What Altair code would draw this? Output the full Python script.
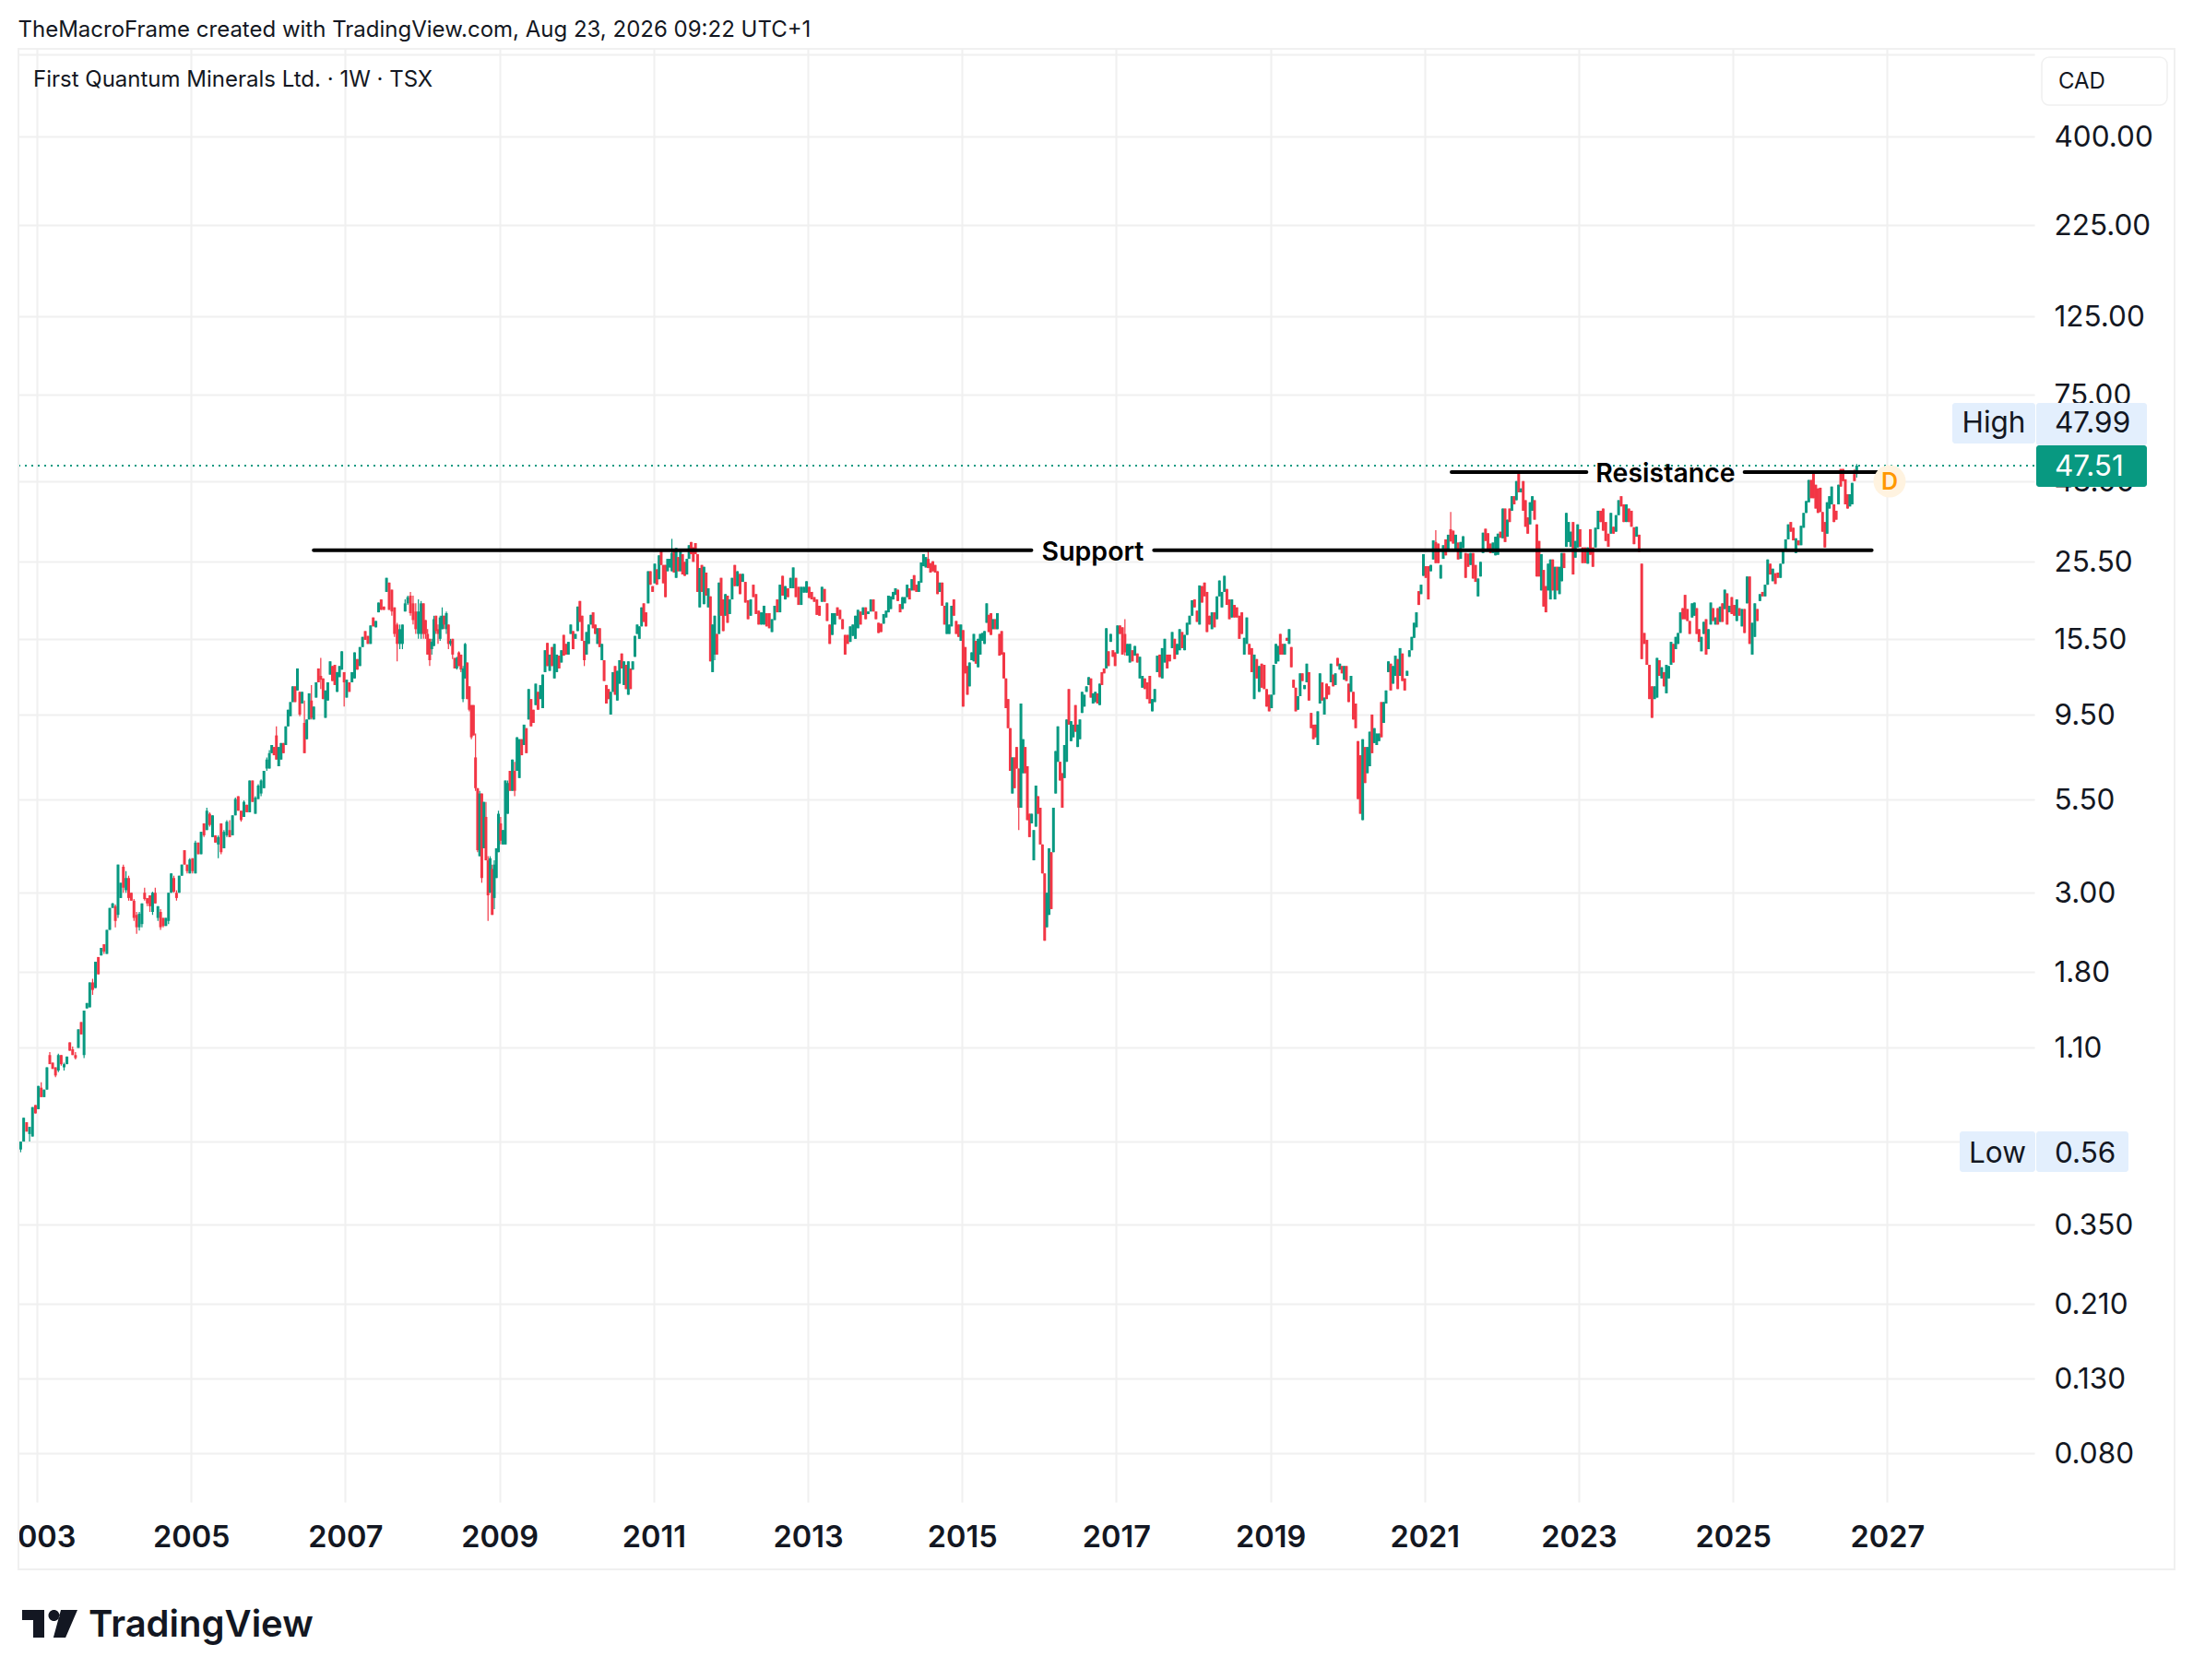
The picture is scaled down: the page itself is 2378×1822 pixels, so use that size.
import altair as alt

# (open, close) or (open, close, high, low), read from the weekly candles, one list per calendar year
bars_2002 = [(.57,.60,.60,.56),(.60,.70),(.68,.64),(.63,.66,.66,.60),(.62,.75),(.76,.72)]
bars_2003 = [(.74,.86),(.85,.80,.88,.80),(.80,.84),(.84,.97),(1.05,.99,1.07,.99),(1.0,.96),(.97,.92,.97,.91),(.95,1.05,1.06,.94),(1.05,.99,1.05,.98),(.97,.99,1.0,.95),(.99,1.04),(1.14,1.08),(1.09,1.05,1.11,1.05),(1.05,1.03,1.07,1.02),(1.1,1.24),(1.3,1.2),(1.05,1.4,1.4,1.03),(1.42,1.47),(1.43,1.68),(1.68,1.6,1.72,1.55),(1.62,1.92),(1.98,1.77),(2.0,2.1),(2.15,2.05,2.15,2.02),(2.02,2.36),(2.36,2.72),(2.72,2.8,2.81,2.72)]
bars_2004 = [(2.75,2.5,2.78,2.4),(2.6,3.6,3.6,2.55),(2.9,3.2),(3.55,3.1,3.6,3.0),(3.05,3.3,3.45,3.0),(3.3,2.9,3.35,2.85),(3.0,2.85),(2.85,2.55,2.88,2.5),(2.6,2.4,2.65,2.3),(2.4,2.62,2.65,2.35),(2.45,2.8,2.8,2.4),(3.0,2.88,3.1,2.85),(2.9,2.8,2.9,2.75),(2.95,2.75,2.95,2.65),(2.65,3.0,3.02,2.6),(3.0,2.8,3.1,2.8),(2.55,2.75,2.75,2.5),(2.65,2.4,2.7,2.36),(2.55,2.42,2.55,2.4),(2.42,2.55),(2.5,3.0,3.0,2.45),(3.0,3.4),(3.3,3.02,3.35,3.0),(3.0,2.9,3.05,2.85),(3.0,3.35),(3.35,3.6),(3.95,3.6),(3.6,3.45,3.6,3.4),(3.4,3.72,3.75,3.4)]
bars_2005 = [(3.75,3.45,3.75,3.4),(3.4,4.15,4.2,3.4),(4.15,3.85),(3.85,4.45),(4.7,4.35,4.7,4.3),(4.5,5.1,5.2,4.5),(5.0,4.65,5.05,4.6),(4.3,4.95),(4.35,4.15),(4.1,4.3,4.35,3.75),(4.7,3.9,4.7,3.85),(4.0,4.45,4.5,4.0),(4.35,4.75,4.8,4.3),(4.5,4.3,4.8,4.3),(4.35,4.95),(4.95,5.5,5.55,4.95),(5.6,5.1),(5.1,4.8,5.1,4.75),(4.9,5.4,5.45,4.9),(5.3,5.05),(5.05,6.2),(6.2,5.4),(5.0,5.55,5.6,5.0),(5.5,6.0,6.05,5.5),(5.7,6.2,6.25,5.6),(5.9,6.6),(6.7,7.1,7.2,6.6)]
bars_2006 = [(6.7,7.4,7.55,6.7),(7.4,7.8),(7.7,7.3),(8.3,7.1,8.8,7.1),(6.8,7.7),(7.1,7.9),(7.9,7.4),(7.8,8.8),(8.8,9.8),(9.4,10.3),(10.3,11.4),(11.4,10.3),(11.1,12.8),(11.0,9.5,11.0,9.4),(10.2,11.0),(9.0,7.4,10.4,7.4),(8.1,9.2),(9.2,10.9),(10.4,9.3,11.5,9.2),(9.2,10.0),(10.6,11.7),(12.8,11.7),(12.2,11.9,13.7,11.2),(12.0,10.5),(9.3,11.1),(10.4,11.7),(12.3,13.4),(13.0,11.8),(13.1,11.5),(11.0,12.5),(12.1,13.0),(12.7,14.3),(12.5,11.7,12.5,10.0)]
bars_2007 = [(10.6,11.9),(11.7,11.0),(11.7,12.5),(12.0,14.2),(13.6,12.7),(13.0,14.7),(14.7,15.7),(16.3,15.4),(15.8,15.0),(15.0,16.9),(17.8,16.8),(16.7,17.4),(18.4,19.6),(20.0,18.7),(19.1,18.7),(21.0,23.0),(22.3,18.7),(21.3,18.5,21.3,18.0),(19.0,16.0,19.0,15.7),(17.0,15.0,17.2,13.4),(15.0,16.5,17.0,14.5),(15.0,17.0,17.0,14.5),(18.5,19.5,20.0,18.5),(19.5,20.3,20.5,19.3),(20.5,18.3,21.0,18.0),(19.5,17.5,20.5,17.0),(18.5,16.5,19.5,16.0),(16.0,18.5,20.0,15.5),(16.0,19.5,19.8,15.5)]
bars_2008 = [(19.5,16.0,19.5,15.5),(17.5,16.0,17.5,15.5),(16.0,14.0,16.5,14.0),(15.5,13.5,15.5,13.0),(14.5,15.2,15.5,14.0),(14.8,17.6,18.0,14.8),(18.0,16.3,18.0,16.0),(16.5,16.0,17.0,15.0),(15.5,17.8,18.0,15.3),(16.5,18.0,19.0,16.5),(18.0,17.0,18.0,16.5),(16.5,18.3,18.5,16.0),(17.0,15.0,17.0,14.5),(15.0,15.3,15.5,14.8),(15.5,14.0,15.5,13.6),(13.7,12.8),(12.8,13.7,13.8,12.7),(14.2,13.0,14.3,13.0),(14.0,12.7,14.0,12.5),(10.5,12.8,13.0,10.3),(12.0,15.0,15.1,12.0),(13.3,10.5),(11.4,9.8,11.4,9.7),(10.1,8.2,10.1,8.1),(10.1,8.3),(7.2,5.9,8.4,5.8),(5.9,3.95,5.9,3.9),(3.8,5.7,5.8,3.8),(5.7,3.3,5.7,3.2),(4.0,5.4),(4.9,3.7,5.4,3.7),(3.7,2.95,3.8,2.5),(3.0,3.75,3.8,3.0),(3.5,2.6,3.6,2.6),(2.9,3.6,3.7,2.7),(3.3,4.0),(3.9,5.0,5.1,3.9)]
bars_2009 = [(4.7,4.2,4.9,4.1),(4.1,4.5),(4.1,6.2),(5.0,6.1,6.2,5.0),(6.6,5.8),(5.8,7.1),(6.6,5.8,7.0,5.6),(6.6,8.2),(6.3,8.1),(8.1,7.3),(7.8,8.9),(8.7,7.4),(9.2,11.2),(10.5,8.8),(9.8,9.0),(10.1,11.6),(11.0,9.8),(10.5,11.5),(9.9,12.3),(12.5,14.4),(15.1,13.0),(12.6,14.0),(14.7,13.0),(12.0,15.0),(12.5,14.0),(13.9,12.8),(13.3,14.4),(15.9,13.9),(15.0,14.0),(14.0,15.2),(16.0,17.0),(16.3,14.5),(15.5,16.0)]
bars_2010 = [(16.3,19.1),(19.8,17.3),(18.0,15.3),(15.3,13.5,15.3,13.0),(14.0,16.2),(15.0,17.0),(17.0,18.1),(18.4,16.6),(17.0,16.0),(15.0,16.6),(16.6,14.7),(13.5,15.0),(13.5,11.8),(11.5,10.2),(11.2,10.5),(9.5,11.0),(11.0,12.5),(13.0,10.8),(10.4,12.6),(11.6,13.5),(14.1,12.8),(11.5,13.4),(13.1,11.2),(10.8,13.4),(12.8,11.2),(12.7,13.4),(13.8,15.8),(16.0,17.0),(15.5,16.8),(16.8,19.0),(19.5,17.3),(18.4,16.8),(19.5,24.0),(24.0,22.0),(21.8,21.0)]
bars_2011 = [(22.2,25.2),(24.3,22.0),(22.8,26.6),(27.3,25.0),(25.0,22.2),(25.0,20.3),(24.0,26.0),(24.6,26.0),(24.0,27.0,29.6,24.0),(27.6,23.8),(23.0,27.9),(26.3,24.0),(24.0,27.3),(26.8,23.5),(25.5,23.3),(23.5,26.0),(26.0,28.4),(29.0,26.8),(28.0,25.5),(28.8,26.8),(26.8,21.0),(19.0,24.5),(25.0,21.0),(19.4,24.7),(23.8,20.5),(19.0,21.5),(20.4,13.4),(12.5,17.0),(14.0,18.0,18.0,13.5),(16.0,14.0),(16.0,22.3),(23.0,18.0),(20.0,16.3),(18.0,20.7),(20.5,17.2),(18.2,20.0)]
bars_2012 = [(20.0,23.0),(25.0,21.8),(21.8,24.0),(23.6,20.7),(22.4,23.6),(22.4,19.6),(19.9,17.6),(18.0,20.0),(22.0,20.3),(20.7,18.2),(18.6,17.0),(17.0,18.4),(17.0,19.2),(18.3,16.8),(18.3,16.6),(16.2,17.6),(17.5,19.2),(20.0,18.4),(18.4,22.0),(23.3,20.5),(20.0,21.8),(21.5,20.3),(21.5,23.0),(21.5,24.6),(23.0,20.3),(21.7,19.3),(19.3,21.7),(20.9,21.7),(20.9,22.5)]
bars_2013 = [(21.7,20.2),(21.0,20.0),(20.3,19.7),(20.0,18.1),(19.2,18.0),(19.7,21.7),(21.4,19.7),(19.5,17.4),(17.0,15.0),(15.9,18.3),(17.0,18.3),(19.0,18.0),(18.7,17.6),(17.6,16.5),(15.9,14.0),(15.9,15.0),(15.2,16.8),(15.8,17.0),(15.5,18.0),(16.6,18.7),(18.5,17.0),(18.1,19.0),(19.0,17.6),(18.2,18.5),(18.5,20.0),(20.0,18.5),(18.5,17.6),(17.2,16.1),(17.1,16.2),(17.1,18.2)]
bars_2014 = [(17.8,18.6),(18.4,20.5),(18.8,20.4),(20.0,21.0),(20.6,21.5),(21.3,19.8),(19.4,18.4),(18.8,20.3),(19.5,20.3),(20.3,22.0),(21.5,20.0),(21.2,22.8),(23.4,21.2),(22.0,21.0),(21.0,22.5),(22.3,25.4),(24.8,26.8),(24.6,26.3),(26.0,24.5,27.3,24.5),(25.3,23.8),(25.6,24.0),(25.0,23.8),(24.0,20.7),(21.0,22.3),(22.3,19.2),(19.2,17.0),(16.0,19.6),(16.0,17.0),(16.8,19.2),(20.0,18.0),(17.4,16.0),(17.0,15.7),(15.3,17.0)]
bars_2015 = [(16.4,10.0),(14.7,12.4),(13.0,10.8),(11.4,13.3),(13.5,14.2),(13.4,16.0),(15.3,13.2),(12.9,15.5),(14.0,16.0),(15.3,16.1),(15.0,16.3),(17.2,19.5),(18.1,16.2),(18.3,15.9),(16.5,17.6),(17.6,16.5),(16.5,18.3),(16.0,13.9),(16.3,14.0),(14.2,12.0),(12.0,9.9),(10.5,8.7),(8.7,6.6),(5.7,7.2),(7.2,5.9),(7.7,6.7),(6.7,5.2,6.7,4.5),(5.2,10.2),(6.5,8.1),(7.7,6.5),(6.8,4.8),(5.0,4.3),(4.7,5.0),(3.7,4.5),(4.6,6.0),(5.6,5.0)]
bars_2016 = [(5.2,4.1),(4.1,3.4),(3.4,2.2),(2.4,3.0),(2.6,4.0),(3.9,2.7),(3.9,5.2),(5.7,7.5),(7.0,8.8),(7.0,6.2),(6.5,5.2),(6.3,7.8),(7.0,9.2),(11.2,8.9),(8.0,9.1),(8.2,8.9),(10.1,8.5),(7.7,8.9),(8.1,9.2),(9.6,11.0),(10.0,10.8),(11.0,11.4),(11.5,12.1),(12.0,10.6),(10.2,10.9),(10.3,11.0),(10.9,10.2),(10.1,11.6),(12.5,11.5),(12.8,12.4),(12.8,16.6),(14.3,13.0),(15.2,16.0),(14.4,13.8),(14.2,13.0)]
bars_2017 = [(14.1,16.9),(16.9,16.0),(16.7,14.0),(16.0,14.2,17.6,13.9),(13.9,15.0),(13.3,15.0),(14.4,13.4),(13.9,14.8),(14.1,13.3),(12.0,13.8),(11.3,12.2),(12.0,11.2),(11.7,10.5),(12.2,10.2),(9.7,10.5),(10.3,11.2),(12.5,13.9),(14.0,12.1),(12.0,14.6),(13.3,15.5),(14.0,12.8),(14.0,13.4),(14.6,16.2),(15.5,13.6),(14.0,15.0),(14.4,16.5),(16.2,14.6),(14.4,15.9),(15.9,17.2),(17.0,18.0),(18.0,19.9)]
bars_2018 = [(20.0,19.0),(18.6,17.3),(17.0,21.9),(21.8,19.6),(22.3,20.4),(21.0,16.2),(18.0,17.0),(16.5,18.4),(18.4,16.7),(17.6,20.4),(20.4,22.6),(19.0,21.0),(21.0,23.3),(21.4,19.3),(20.0,17.6),(17.8,20.0),(19.3,17.8),(19.0,17.8),(18.0,15.5),(18.4,16.0),(14.0,15.6),(15.0,17.8),(15.0,14.0),(14.6,12.5),(10.5,14.0),(13.6,12.0),(11.0,13.0),(13.2,11.3),(13.1,11.2),(11.2,10.0),(10.8,9.7)]
bars_2019 = [(9.9,10.8),(10.8,13.1),(13.2,15.0),(13.4,14.8),(16.0,14.0),(15.0,14.0),(14.0,15.0),(15.6,15.3),(15.0,16.5),(14.7,12.9),(11.9,11.3),(11.3,9.7),(9.8,10.7),(10.7,12.4),(12.4,11.8),(11.2,11.5),(11.7,13.2),(12.5,10.4),(9.6,8.7),(8.9,8.1),(8.9,8.2),(7.8,9.7),(10.2,12.4),(11.7,10.4),(9.5,10.6),(11.6,10.5),(11.4,10.8),(11.7,13.2),(12.3,11.4),(11.5,12.4),(13.7,13.0),(12.7,13.2),(13.0,12.4),(11.9,13.0),(13.0,11.8)]
bars_2020 = [(11.6,10.3),(11.0,12.2),(11.0,9.2),(10.2,8.7),(8.0,5.5),(7.3,5.0),(4.8,8.1),(7.7,6.1),(6.5,7.7),(6.8,8.5),(9.5,7.4),(7.9,8.7),(7.8,8.4),(8.0,8.4),(10.3,8.2),(9.0,10.3),(10.2,11.1),(12.5,13.4),(13.2,11.1),(11.6,13.0),(12.2,13.9),(13.6,11.2),(12.2,14.6),(14.1,11.8),(12.0,11.1),(12.2,12.6),(13.8,14.4),(14.4,15.7),(15.6,17.2),(16.7,18.4),(21.1,19.3),(20.7,22.0),(23.3,26.8)]
bars_2021 = [(24.8,23.0),(24.8,20.0),(24.0,25.0),(25.9,29.3),(29.0,25.3,31.3,25.3),(28.7,25.3),(22.9,25.0),(26.0,28.4),(29.5,26.6),(27.7,30.4),(31.5,29.1,35.2,29.1),(31.2,28.7),(27.7,30.4),(28.9,25.9),(26.0,29.0),(27.9,30.1),(27.0,23.0),(26.9,24.7),(25.0,27.0),(27.0,22.9),(25.0,22.4),(20.4,22.9),(23.2,25.5),(27.0,30.8),(31.6,29.2),(30.7,27.4),(28.7,27.0),(27.0,28.9),(26.6,30.0),(26.7,30.6),(31.0,29.8)]
bars_2022 = [(29.7,36.0),(36.0,29.0),(30.0,33.5),(36.0,33.0),(35.5,39.0),(39.0,37.0),(38.0,43.0,43.0,38.0),(45.8,40.0),(40.0,41.0),(43.0,35.5),(38.0,32.0),(34.0,30.6),(32.5,37.5),(35.5,39.0),(38.0,33.5),(32.5,23.2),(29.2,23.2),(21.2,26.8),(24.2,19.1),(21.8,18.4),(21.2,25.2),(20.0,25.9),(25.9,21.2),(20.0,24.7),(24.7,21.2),(20.7,24.7),(22.5,27.0),(27.0,24.5),(28.1,35.0),(29.0,33.0),(28.1,31.0),(33.0,23.5),(26.2,29.2),(28.0,32.5)]
bars_2023 = [(31.5,28.1),(28.0,25.3),(28.0,25.3),(25.2,28.0),(31.5,26.7),(28.0,24.7),(28.0,31.8),(31.5,35.5),(35.5,33.0),(36.0,31.2),(33.0,29.2),(30.6,28.1),(30.6,35.0),(32.0,30.6),(31.0,34.5),(34.5,38.0),(39.0,36.5),(37.0,33.0),(33.0,37.0),(36.0,33.0),(35.5,32.0),(31.9,28.6),(30.0,32.0),(30.4,27.2),(25.2,13.6),(16.1,15.0),(15.4,13.1),(13.1,10.5),(11.4,9.3),(10.5,11.4)]
bars_2024 = [(10.6,13.7),(13.5,12.2),(12.0,12.9),(12.5,11.4),(10.9,13.1),(12.0,13.0),(13.1,15.2),(15.0,13.3),(14.5,15.7),(15.0,16.1),(16.1,18.4),(18.9,17.6),(20.6,17.6),(18.8,17.4),(17.4,16.0),(17.8,19.5),(18.0,19.6),(18.9,16.0),(16.5,15.2),(14.3,15.7),(16.0,17.3),(17.6,14.0),(14.5,16.5),(17.0,19.6),(18.9,17.4),(17.0,17.8),(18.9,17.0),(17.3,19.1),(19.5,17.3),(18.8,21.3),(20.8,17.0),(18.4,19.2),(20.3,18.2)]
bars_2025 = [(19.3,18.0),(17.4,20.0),(18.9,18.0),(16.8,18.8),(18.8,16.1),(19.5,23.2),(23.2,15.0),(14.0,17.2),(15.7,19.5),(18.8,17.4),(19.8,20.7),(21.0,20.4),(20.4,22.0),(22.0,25.9),(25.2,23.5),(22.5,24.4),(23.7,22.1),(23.8,23.0),(23.0,25.2),(25.2,27.5),(27.5,29.5),(29.5,32.5),(33.0,31.0),(31.8,29.3),(27.0,29.7),(29.3,28.4),(28.4,32.2),(31.8,35.0),(35.0,37.8),(37.5,43.3)]
bars_2026 = [(43.3,38.5),(45.8,38.5),(42.0,36.0),(41.0,35.0),(41.2,35.2),(35.2,31.0),(33.0,28.0,33.0,28.0),(30.6,37.5),(36.0,39.0),(37.0,41.5),(37.0,33.0),(35.5,33.5),(37.0,42.0),(46.5,41.5),(46.5,43.0),(43.5,37.0),(39.5,36.0),(36.5,39.5),(37.0,42.5),(45.0,43.0,46.5,43.0),(45.0,47.51,47.99,44.0)]

years = {2002: bars_2002, 2003: bars_2003, 2004: bars_2004, 2005: bars_2005, 2006: bars_2006, 2007: bars_2007,
         2008: bars_2008, 2009: bars_2009, 2010: bars_2010, 2011: bars_2011, 2012: bars_2012, 2013: bars_2013,
         2014: bars_2014, 2015: bars_2015, 2016: bars_2016, 2017: bars_2017, 2018: bars_2018, 2019: bars_2019,
         2020: bars_2020, 2021: bars_2021, 2022: bars_2022, 2023: bars_2023, 2024: bars_2024, 2025: bars_2025,
         2026: bars_2026}
spans = {2002: (2002.77, 2003.0), 2026: (2026.0, 2026.62)}

price_ticks = [680, 400, 225, 125, 75, 43, 25.5, 15.5, 9.5, 5.5, 3, 1.8, 1.1, 0.6, 0.35, 0.21, 0.13, 0.08]
year_ticks = list(range(2003, 2029, 2))
support_level = 27.5
support_segments = [(2006.59, 2015.9), (2017.49, 2026.8)]
resistance_level = 45.6
resistance_segments = [(2021.35, 2023.1), (2025.15, 2026.87)]
last_price = 47.51

rows = []
for yr, bars in years.items():
    a, b = spans.get(yr, (yr, yr + 1))
    for i, bar in enumerate(bars):
        o, c = bar[0], bar[1]
        hi = bar[2] if len(bar) > 2 else max(o, c)
        lo = bar[3] if len(bar) > 2 else min(o, c)
        rows.append(dict(t=a + (i + .5) * (b - a) / len(bars), open=o, close=c, high=hi, low=lo,
                         side="up" if c >= o else "down"))

FONT = "Inter"
INK = "#131722"
GRID = "#f0f0f0"
UP = "#089981"
DOWN = "#f23645"
W, H = 2186, 1576

xs = alt.Scale(domain=[2002.76, 2028.91], nice=False, zero=False)
ys = alt.Scale(type="log", domain=[0.0583, 704], nice=False)
colour = alt.Color("side:N", scale=alt.Scale(domain=["up", "down"], range=[UP, DOWN]), legend=None)
x_axis = alt.Axis(values=year_ticks, format="d", title=None, grid=True, gridColor=GRID, gridWidth=2, ticks=False,
                  domain=False, labelFont=FONT, labelFontSize=32.5, labelFontWeight=600, labelColor=INK,
                  labelPadding=22, labelOverlap=False, labelFlush=False, labelBound=False)
y_axis = alt.Axis(values=price_ticks, orient="right", title=None, grid=True, gridColor=GRID, gridWidth=2, ticks=False,
                  domain=False, labelFont=FONT, labelFontSize=31.5, labelColor=INK, labelPadding=21, labelOverlap=False,
                  labelBound=False, labelFlush=False, labelAlign="left", labelOffset=1.5,
                  labelExpr="datum.value > 600 || (datum.value > 0.55 && datum.value < 0.65) ? '' : "
                            "datum.value >= 1 ? format(datum.value, '.2f') : format(datum.value, '.3f')")

data = alt.Data(values=rows)
wicks = alt.Chart(data).mark_rule(strokeWidth=1.2).encode(
    x=alt.X("t:Q", scale=xs, axis=x_axis),
    y=alt.Y("low:Q", scale=ys, axis=y_axis), y2="high:Q", color=colour)
bodies = alt.Chart(data).mark_rule(strokeWidth=3).encode(
    x=alt.X("t:Q"), y=alt.Y("open:Q"), y2="close:Q", color=colour)


def hline(level, segments, **style):
    vals = [dict(a=a, b=b, p=level) for a, b in segments]
    return alt.Chart(alt.Data(values=vals)).mark_rule(**style).encode(x="a:Q", x2="b:Q", y="p:Q")


support = hline(support_level, support_segments, color="#000000", strokeWidth=4, strokeCap="round")
resistance = hline(resistance_level, resistance_segments, color="#000000", strokeWidth=4, strokeCap="round")
price_line = alt.Chart(alt.Data(values=[dict(p=last_price)])).mark_rule(
    color=UP, strokeWidth=2, strokeDash=[2, 5]).encode(x=alt.value(0), x2=alt.value(W), y="p:Q")

one = alt.Data(values=[dict(n=1)])


def text(s, x, y, size=24, color=INK, weight=400, align="left"):
    return alt.Chart(one).mark_text(text=s, font=FONT, fontSize=size, color=color, fontWeight=weight, align=align,
                                    baseline="middle").encode(x=alt.value(x), y=alt.value(y))


def box(x1, x2, y1, y2, **style):
    return alt.Chart(one).mark_rect(**style).encode(x=alt.value(x1), x2=alt.value(x2), y=alt.value(y1), y2=alt.value(y2))


LOGO = ("M-1 -.5 L-.2 -.5 L-.2 .5 L-.6 .5 L-.6 -.133 L-1 -.133 Z "
        "M-.05 -.3 a .2 .2 0 1 0 .4 0 a .2 .2 0 1 0 -.4 0 Z "
        "M.4 -.5 L1 -.5 L.57 .5 L.13 .5 Z")

overlay = [
    box(-12, 0, 1590, 1640, color="#ffffff"),
    box(0, 2338, 0, 1649, fillOpacity=0, stroke=GRID, strokeWidth=2),
    text("TheMacroFrame created with TradingView.com, Aug 23, 2026 09:22 UTC+1", -0.5, -20),
    text("First Quantum Minerals Ltd. · 1W · TSX", 16, 33.5),
    box(2194, 2330, 9, 61, color="#ffffff", stroke=GRID, strokeWidth=1.5, cornerRadius=8),
    text("CAD", 2212, 36),
    box(2097, 2187, 384, 428, color="#e3effd", cornerRadius=3),
    box(2188, 2308, 384, 430, color="#e3effd", cornerRadius=3),
    text("High", 2142, 406.5, size=31.5, align="center"),
    text("47.99", 2208, 406.5, size=31.5),
    box(2188, 2308, 430, 475, color=UP, cornerRadius=3),
    text("47.51", 2208, 453.5, size=31.5, color="#ffffff"),
    box(2105, 2187, 1174, 1218, color="#e3effd", cornerRadius=3),
    box(2188, 2288, 1174, 1218, color="#e3effd", cornerRadius=3),
    text("Low", 2146, 1198.5, size=31.5, align="center"),
    text("0.56", 2208, 1198.5, size=31.5),
    text("Support", 1165, 546, size=28.5, weight=600, color="#000000", align="center"),
    text("Resistance", 1786, 461, size=28.5, weight=600, color="#000000", align="center"),
    alt.Chart(one).mark_point(filled=True, size=1225, color="#fff3e0", opacity=1).encode(x=alt.value(2029), y=alt.value(469)),
    text("D", 2029, 470, size=25, color="#ff9800", weight=600, align="center"),
    alt.Chart(one).mark_point(shape=LOGO, filled=True, size=3600, color=INK, opacity=1).encode(x=alt.value(34), y=alt.value(1708)),
    text("TradingView", 76, 1709.5, size=40, weight=600, color=INK),
]

chart = alt.layer(wicks, bodies, price_line, support, resistance, *overlay).properties(
    width=W, height=H, autosize="none", background="#ffffff",
    padding={"left": 12, "top": 45, "right": 160, "bottom": 180},
).configure_view(stroke=None)

chart.save("out.html", embed_options={"renderer": "svg", "actions": False})
